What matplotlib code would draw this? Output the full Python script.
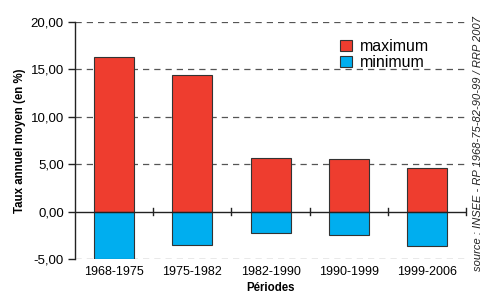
import matplotlib
matplotlib.use("Agg")
import matplotlib.pyplot as plt
import numpy as np
from matplotlib.patches import Patch
from matplotlib.ticker import FuncFormatter

periods = ["1968-1975", "1975-1982", "1982-1990", "1990-1999", "1999-2006"]
maximum = [16.3, 14.4, 5.7, 5.6, 4.55]
minimum = [-5.0, -3.5, -2.27, -2.5, -3.6]
yticks = [-5, 0, 5, 10, 15, 20]

red = "#EE3D2F"
blue = "#00AEEF"

plt.rcParams['font.family'] = ['Liberation Sans', 'DejaVu Sans']

fig = plt.figure(figsize=(4.84, 2.98), dpi=100)
ax = fig.add_axes([0.155, 0.131, 0.808, 0.795])

x = np.arange(len(periods))
for yv in [-5, 5, 10, 15, 20]:
    ax.axhline(yv, color="#555555", lw=0.9, ls=(0, (5, 4)), zorder=0)

ax.bar(x, maximum, width=0.51, color=red, edgecolor="#333333", linewidth=0.8, zorder=2, label="maximum")
ax.bar(x, minimum, width=0.51, color=blue, edgecolor="#333333", linewidth=0.8, zorder=2, label="minimum")

ax.set_xlim(-0.5, len(periods) - 0.5)
ax.set_ylim(-5, 20)

for s in ["top", "right", "bottom"]:
    ax.spines[s].set_visible(False)
ax.spines["left"].set_color("#222222")
ax.spines["left"].set_linewidth(1.0)

ax.axhline(0, color="#222222", lw=1.0, zorder=3)
# category boundary ticks on zero line
for b in np.arange(0.5, len(periods) + 0.5, 1.0):
    ax.plot([b, b], [-0.35, 0.35], color="#222222", lw=1.0, zorder=3, clip_on=False)

ax.set_yticks(yticks)
ax.yaxis.set_major_formatter(FuncFormatter(lambda v, p: f"{v:.2f}".replace(".", ",")))
ax.tick_params(axis="y", length=5, width=1.0, color="#222222", labelsize=9.5, pad=3)
ax.set_xticks(x)
ax.set_xticklabels(periods)
ax.tick_params(axis="x", length=0, labelsize=9, pad=5)

ax.set_ylabel("Taux annuel moyen (en %)", fontsize=8.3, fontweight="bold", labelpad=3)
ax.set_xlabel("Périodes", fontsize=8.3, fontweight="bold", labelpad=3)

handles = [Patch(facecolor=red, edgecolor="#333333", linewidth=0.8),
           Patch(facecolor=blue, edgecolor="#333333", linewidth=0.8)]
ax.legend(handles, ["maximum", "minimum"], loc="upper left", bbox_to_anchor=(0.648, 0.975),
          frameon=False, fontsize=11.5, handlelength=0.75, handleheight=0.75,
          handletextpad=0.5, labelspacing=0.05, borderpad=0.2)

fig.text(0.988, 0.52, "source : INSEE - RP 1968-75-82-90-99 / RRP 2007", rotation=90,
         fontsize=8, style="italic", ha="center", va="center", color="#222222")

fig.savefig("out.png", dpi=100)
